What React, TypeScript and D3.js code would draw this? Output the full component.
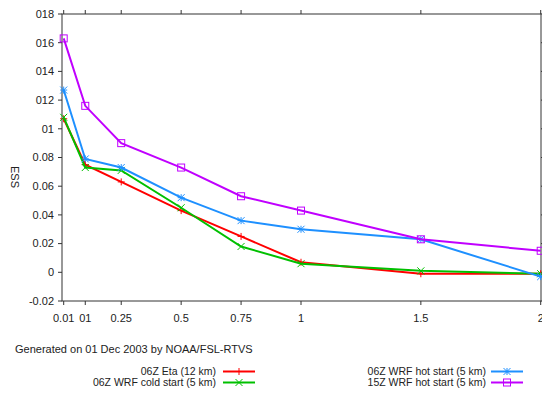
import React from 'react';
import * as d3 from 'd3';

const xValues = [0.01, 0.1, 0.25, 0.5, 0.75, 1, 1.5, 2];
const xTickLabels = ['0.01', '01', '0.25', '0.5', '0.75', '1', '1.5', '2'];
const yTicks = [0.18, 0.16, 0.14, 0.12, 0.1, 0.08, 0.06, 0.04, 0.02, 0, -0.02];
const yTickLabels = ['018', '016', '014', '012', '01', '0.08', '0.06', '0.04', '0.02', '0', '-0.02'];

const etaValues = [0.107, 0.075, 0.063, 0.043, 0.025, 0.007, -0.001, -0.001];
const coldValues = [0.108, 0.073, 0.071, 0.045, 0.018, 0.006, 0.001, -0.001];
const hot06Values = [0.127, 0.079, 0.073, 0.052, 0.036, 0.030, 0.023, -0.003];
const hot15Values = [0.163, 0.116, 0.090, 0.073, 0.053, 0.043, 0.023, 0.015];

const seriesNames = ['06Z Eta (12 km)', '06Z WRF cold start (5 km)', '06Z WRF hot start (5 km)', '15Z WRF hot start (5 km)'];
const seriesColors = ['#ff0000', '#00c000', '#1e90ff', '#c000ff'];
const seriesMarkers = ['plus', 'cross', 'star', 'square'];
const seriesValues = [etaValues, coldValues, hot06Values, hot15Values];

const font = 'Liberation Sans, Arial, Helvetica, sans-serif';

const Marker = ({ type, x, y, color }: { type: string; x: number; y: number; color: string }) => {
  const s = 3.5;
  if (type === 'plus') {
    return <path d={`M${x - s},${y}H${x + s}M${x},${y - s}V${y + s}`} stroke={color} strokeWidth={1} />;
  }
  if (type === 'cross') {
    return <path d={`M${x - s},${y - s}L${x + s},${y + s}M${x - s},${y + s}L${x + s},${y - s}`} stroke={color} strokeWidth={1} />;
  }
  if (type === 'star') {
    return (
      <path
        d={`M${x - s},${y}H${x + s}M${x},${y - s}V${y + s}M${x - s},${y - s}L${x + s},${y + s}M${x - s},${y + s}L${x + s},${y - s}`}
        stroke={color}
        strokeWidth={1}
      />
    );
  }
  return <rect x={x - s} y={y - s} width={2 * s} height={2 * s} fill="none" stroke={color} strokeWidth={1} />;
};

const App = () => {
  const width = 542;
  const height = 393;
  const left = 62;
  const right = 541;
  const top = 14;
  const bottom = 301;

  const x = d3.scaleLinear().domain([0, 2]).range([61.3, 540.7]);
  const y = d3.scaleLinear().domain([-0.02, 0.18]).range([bottom, top]);

  const line = d3
    .line<number>()
    .x((_, i) => x(xValues[i]))
    .y((d) => y(d));

  const axisColor = '#333';

  const legendItems = [
    { i: 0, textX: 216, lineX: 223, y: 371.5 },
    { i: 1, textX: 216, lineX: 223, y: 382.5 },
    { i: 2, textX: 486, lineX: 491, y: 371.5 },
    { i: 3, textX: 486, lineX: 491, y: 382.5 },
  ];

  return (
    <div style={{ position: 'absolute', left: 0, top: 0 }}>
      <svg width={width} height={height} style={{ display: 'block', background: '#fff' }} fontFamily={font}>
        {/* frame */}
        <rect x={left} y={top} width={right - left} height={bottom - top} fill="none" stroke={axisColor} strokeWidth={1} />

        {/* y ticks */}
        {yTicks.map((t, i) => (
          <g key={`y${i}`}>
            <line x1={left - 4} x2={left} y1={y(t)} y2={y(t)} stroke={axisColor} />
            <line x1={right} x2={right + 4} y1={y(t)} y2={y(t)} stroke={axisColor} />
            <text x={54} y={y(t)} dy="0.35em" textAnchor="end" fontSize={11} fill="#222">
              {yTickLabels[i]}
            </text>
          </g>
        ))}

        {/* x ticks */}
        {xValues.map((t, i) => (
          <g key={`x${i}`}>
            <line x1={x(t)} x2={x(t)} y1={bottom} y2={bottom + 4} stroke={axisColor} />
            <line x1={x(t)} x2={x(t)} y1={top - 4} y2={top} stroke={axisColor} />
            <text x={x(t)} y={318} dy="0.35em" textAnchor="middle" fontSize={11} fill="#222">
              {xTickLabels[i]}
            </text>
          </g>
        ))}

        <text transform="translate(15,177) rotate(90)" textAnchor="middle" dy="0.35em" fontSize={11} fill="#222">
          ESS
        </text>

        {/* series */}
        {seriesValues.map((vals, si) => (
          <g key={`s${si}`}>
            <path d={line(vals) || ''} fill="none" stroke={seriesColors[si]} strokeWidth={2} />
            {vals.map((v, i) => (
              <Marker key={i} type={seriesMarkers[si]} x={x(xValues[i])} y={y(v)} color={seriesColors[si]} />
            ))}
          </g>
        ))}

        <text x={15} y={349} dy="0.35em" fontSize={11} fill="#222">
          Generated on 01 Dec 2003 by NOAA/FSL-RTVS
        </text>

        {/* legend */}
        {legendItems.map((it) => (
          <g key={`l${it.i}`}>
            <text x={it.textX} y={it.y} dy="0.35em" textAnchor="end" fontSize={10.5} fill="#222">
              {seriesNames[it.i]}
            </text>
            <line x1={it.lineX} x2={it.lineX + 32} y1={it.y} y2={it.y} stroke={seriesColors[it.i]} strokeWidth={2} />
            <Marker type={seriesMarkers[it.i]} x={it.lineX + 16} y={it.y} color={seriesColors[it.i]} />
          </g>
        ))}
      </svg>
    </div>
  );
};

export default App;
